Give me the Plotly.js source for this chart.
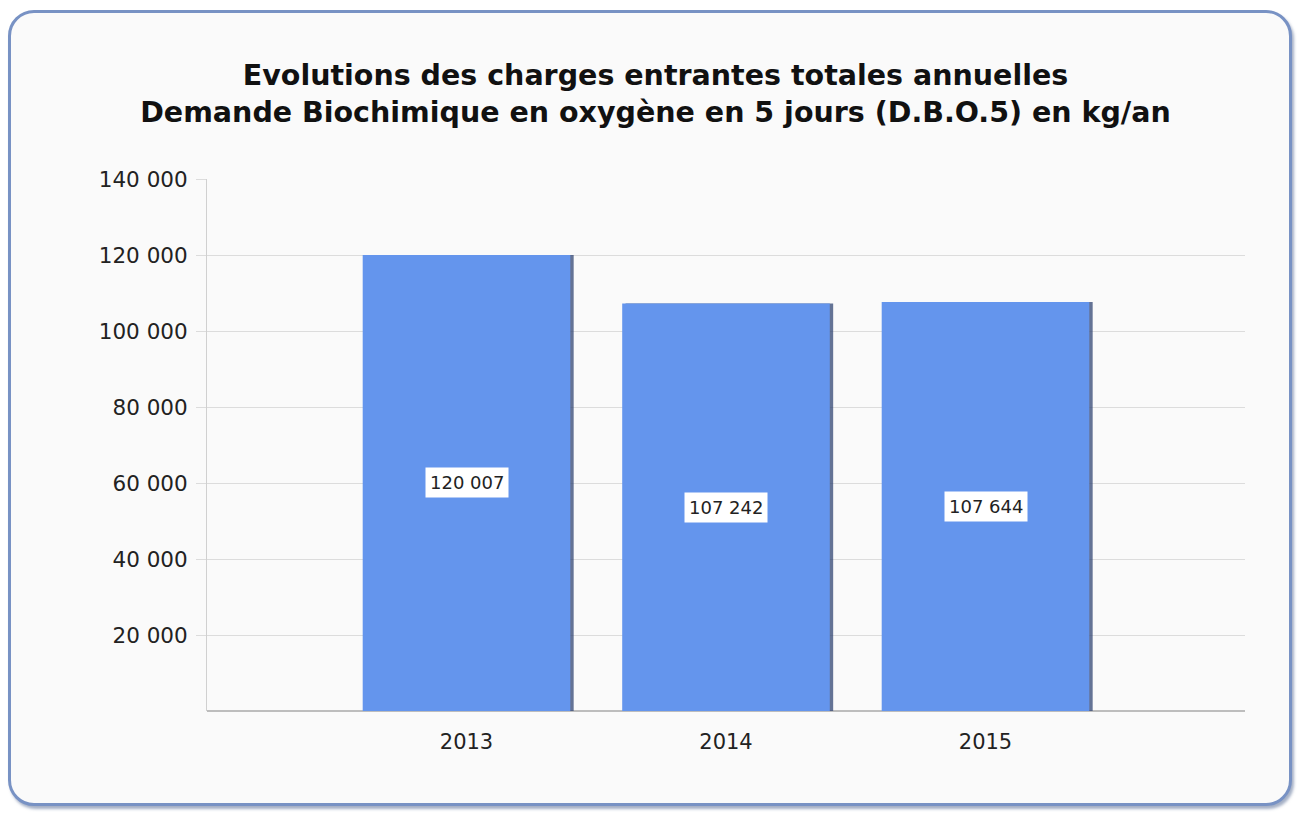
<!DOCTYPE html>
<html>
<head>
<meta charset="utf-8">
<script src="https://cdn.plot.ly/plotly-3.0.1.min.js"></script>
<style>
  html, body { margin: 0; padding: 0; background: #ffffff; width: 1311px; height: 816px; overflow: hidden; }
  #frame {
    position: absolute; left: 8px; top: 10px; width: 1284px; height: 796px;
    box-sizing: border-box; border: 3px solid #7892c4; border-radius: 26px;
    background: #fafafa; box-shadow: 2px 3px 3px rgba(90,110,150,0.55);
  }
  #chart { position: absolute; left: 0; top: 0; width: 1311px; height: 816px; }
</style>
</head>
<body>
<div id="frame"></div>
<div id="chart"></div>
<script>
// ---- data ----
const titleLines = [
  "Evolutions des charges entrantes totales annuelles",
  "Demande Biochimique en oxygène en 5 jours (D.B.O.5) en kg/an"
];
const years = ["2013", "2014", "2015"];
const dboValues = [120007, 107242, 107644];
const yTickVals = [20000, 40000, 60000, 80000, 100000, 120000, 140000];
const yTickText = ["20 000", "40 000", "60 000", "80 000", "100 000", "120 000", "140 000"];

function fmt(v) {
  return String(v).replace(/\B(?=(\d{3})+(?!\d))/g, " ");
}

const shadow = {
  type: "bar", x: years, y: dboValues,
  width: 0.8, offset: -0.4 + 0.013,
  marker: { color: "rgba(50,70,115,0.75)", line: { width: 0 } },
  hoverinfo: "skip", showlegend: false
};
const bars = {
  type: "bar", x: years, y: dboValues,
  width: 0.8, offset: -0.4,
  marker: { color: "#6495ED", line: { width: 0 } },
  hoverinfo: "skip", showlegend: false
};

// category axis: annotation x given as category index
const annotations = years.map((yr, i) => ({
  x: i, y: dboValues[i] / 2, xref: "x", yref: "y",
  text: fmt(dboValues[i]), showarrow: false,
  font: { family: "DejaVu Sans", size: 18, color: "#222222" },
  bgcolor: "#ffffff", borderpad: 4
}));

const layout = {
  width: 1311, height: 816,
  paper_bgcolor: "rgba(0,0,0,0)", plot_bgcolor: "rgba(0,0,0,0)",
  margin: { l: 207, r: 66, t: 179, b: 105, pad: 0 },
  barmode: "overlay",
  separators: ", ",
  title: {
    text: titleLines.join("<br>"),
    font: { family: "DejaVu Sans", size: 28.5, color: "#111111", weight: "bold" },
    x: 0.5, xref: "container", xanchor: "center",
    y: 1 - 85 / 816, yref: "container", yanchor: "top"
  },
  xaxis: {
    type: "category", range: [-1, 3],
    showgrid: false, zeroline: false,
    showline: false, ticks: "",
    tickfont: { family: "DejaVu Sans", size: 21, color: "#222222" },
    ticklabelstandoff: 16, fixedrange: true
  },
  yaxis: {
    range: [0, 140000], tickvals: yTickVals, ticktext: yTickText,
    showgrid: true, gridcolor: "#dcdcdc", gridwidth: 1,
    zeroline: true, zerolinecolor: "#bdbdbd", zerolinewidth: 2,
    showline: true, linecolor: "#d0d0d0", linewidth: 1,
    ticks: "outside", ticklen: 10, tickcolor: "#dcdcdc",
    tickfont: { family: "DejaVu Sans", size: 21.5, color: "#222222" },
    ticklabelstandoff: 4, fixedrange: true
  },
  annotations: annotations
};

Plotly.newPlot("chart", [shadow, bars], layout, { displayModeBar: false, staticPlot: true });
</script>
</body>
</html>
